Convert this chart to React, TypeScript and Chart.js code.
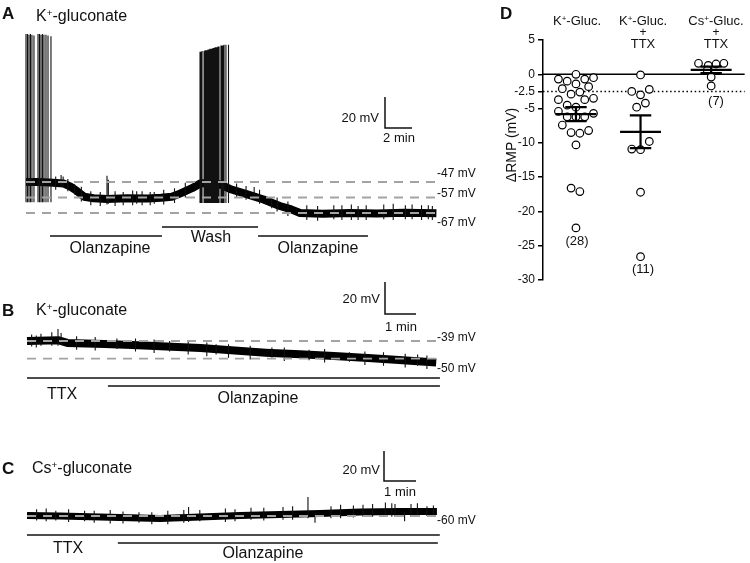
import React, { useEffect, useRef } from "react";
import { Chart, registerables } from "chart.js";
Chart.register(...registerables);

const FONT = '"Liberation Sans", Arial, Helvetica, sans-serif';

// ---------------- Panel A (K+-gluconate) ----------------
const traceATime = [0, 1, 2, 2.8, 3.3, 3.8, 4.3, 5, 6, 7.5, 9, 10, 10.8, 11.4, 12.3, 12.9, 13.9, 14.5, 15.1, 16.4, 17.6, 18.8, 19.6, 20.3, 22, 24, 26, 28, 30.4];
const traceAMv = [-47, -47, -47.5, -48, -50, -53, -56.5, -57.5, -58, -57.5, -57.6, -57.2, -56.5, -54.5, -51, -48, -47.3, -49, -51.5, -55, -58.3, -62.5, -64.5, -67, -67.5, -67, -67.3, -66.8, -67.2];
// action potentials (two bursts) and small noise deflections
const spikeATime = [0, 0.11, 0.22, 0.33, 0.44, 0.59, 0.89, 1.0, 1.11, 1.22, 1.33, 1.48, 1.63, 1.85,
  12.89, 12.96, 13.04, 13.19, 13.26, 13.33, 13.41, 13.48, 13.56, 13.63, 13.7, 13.78, 13.85, 13.93, 14.0, 14.07, 14.15, 14.22, 14.3, 14.44, 14.52, 14.59, 14.67, 14.81, 15.0,
  2.6, 2.75, 3.6, 6.0, 6.1, 8.2, 9.5, 16.9, 18.2, 22.8, 24.6, 26.5, 28.1, 29.8,
  2.2, 3.1, 4.1, 4.8, 5.5, 6.6, 7.2, 7.9, 8.6, 9.2, 10.2, 11.0, 11.8, 15.6, 16.3, 17.3, 18.6, 19.4, 20.8, 21.6, 23.4, 24.1, 25.2, 27.2, 28.6, 29.3, 30.1];
const spikeALow = [-60, -60, -60, -60, -60, -60, -60, -60, -60, -60, -60, -60, -60, -60,
  -60.5, -60.5, -60.5, -60.5, -60.5, -60.5, -60.5, -60.5, -60.5, -60.5, -60.5, -60.5, -60.5, -60.5, -60.5, -60.5, -60.5, -60.5, -60.5, -60.5, -60.5, -60.5, -60.5, -60.5, -60.5,
  -50, -50, -55, -61.5, -61, -61, -61, -58, -64, -71, -71.5, -71, -71, -71,
  -52, -53, -59.5, -62, -62.5, -62.5, -62, -62, -62, -62, -61.5, -60.5, -57, -57, -58.5, -61, -66, -69, -71.5, -72, -71.5, -71.5, -71.5, -71.5, -71, -71.5, -71.5];
const spikeAHigh = [48.5, 48.5, 48, 48.5, 48, 47.5, 48.5, 48.5, 48, 48.5, 48, 48, 47.5, 47,
  37, 37, 37.5, 37.5, 38, 38, 38, 38.5, 38.5, 39, 39, 39, 39.5, 39.5, 40, 40, 40, 40.5, 40.5, 41, 41, 41, 41.5, 41.5, 41.5,
  -42.5, -43.5, -48.5, -43, -45.5, -53, -53.5, -50.2, -57, -62, -62.5, -61.5, -62, -62,
  -43.5, -45, -50, -53, -53.5, -53, -53.5, -52.5, -53, -53.5, -52, -51, -47.5, -48, -49.5, -52, -57, -59.5, -62, -62.5, -62, -61.5, -62, -61, -61.5, -62, -62.5];
const refLinesA = [-47, -57, -67];
const protocolAStart = [1.78, 10.07, 17.19];
const protocolAEnd = [10.07, 17.19, 25.33];

// ---------------- Panel B (K+-gluconate, TTX) ----------------
const traceBTime = [0, 1, 1.3, 2.5, 3.4, 4.5, 5.6, 6.7, 7.7, 8.8, 9.9, 11, 12, 13.2];
const traceBMv = [-39, -38.5, -40.2, -40.8, -41.5, -42.5, -43.4, -45, -46.3, -47.3, -48.4, -49.6, -50.9, -52.5];
const spikeBTime = [0.15, 0.45, 0.8, 1.0, 1.1, 2.9, 4.6, 6.1, 7.9, 9.1, 10.4, 12.6,
  0.3, 1.6, 2.2, 3.5, 4.1, 5.2, 5.8, 6.5, 7.2, 8.3, 9.6, 10.9, 11.5, 12.2, 12.9];
const spikeBLow = [-42.5, -42, -42, -42, -41.5, -44, -45.5, -47.5, -49.5, -51, -52, -54.5,
  -43, -44.5, -45, -45.5, -46.5, -47.5, -48.5, -49.5, -50.5, -51.5, -52.5, -54, -54.5, -55.5, -56.5];
const spikeBHigh = [-35, -34.5, -33.5, -31.5, -34, -37.5, -39, -41, -43, -44.5, -46, -47.5,
  -35.5, -36, -36.5, -37.5, -38, -39, -40, -41, -42, -43, -44, -45.5, -46, -47, -48];
const refLinesB = [-39, -50];
const protocolBStart = [0, 2.61];
const protocolBEnd = [13.32, 13.32];

// ---------------- Panel C (Cs+-gluconate, TTX) ----------------
const traceCTime = [0, 1.03, 2.28, 3.53, 4.16, 5.41, 6.66, 7.91, 9.16, 10.41, 11.66, 12.81];
const traceCMv = [-59.7, -60, -60.7, -61.3, -61.7, -60.7, -59.7, -59, -58.3, -57.3, -57, -57];
const spikeCTime = [0.9, 1.8, 3.5, 4.9, 5.05, 5.4, 7.0, 8.78, 9.5, 10.5, 11.2, 11.5, 12.5, 9.0, 11.8,
  0.3, 0.6, 1.3, 2.1, 2.6, 3.0, 3.9, 4.4, 6.2, 6.5, 7.4, 8.0, 8.3, 9.8, 10.2, 10.8, 11.4, 12.0, 12.2, 12.7];
const spikeCLow = [-63, -63.5, -64.5, -64.5, -64, -63.5, -62.5, -61.5, -61.5, -60.5, -60.5, -60.5, -60, -64.5, -63.5,
  -63, -63.5, -64, -64.5, -65, -65, -65.5, -65.5, -64, -63.5, -63, -62.5, -62.5, -61.5, -61, -60.5, -60.5, -60.5, -60.5, -60.5];
const spikeCHigh = [-56.5, -56.5, -57.5, -56, -54, -56, -54.5, -47.3, -53.5, -52.5, -51, -52, -53.5, -58, -57,
  -55.5, -55, -55.5, -56.5, -56, -57, -57.5, -56.5, -55, -55.5, -54.5, -54, -53.5, -52.5, -53, -52, -51.5, -52, -51.5, -53];
const refLinesC = [-60];
const protocolCStart = [0, 2.84];
const protocolCEnd = [12.9, 12.84];

// ---------------- Panel D (ΔRMP) ----------------
const dTicks = [-30, -25, -20, -15, -10, -5, -2.5, 0, 5];
const kGlucValues = [0, -0.7, -1.0, -1.4, -0.7, -0.5, -2.1, -2.9, -2.6, -1.8, -3.7, -4.5, -4.8, -3.7, -3.5, -5.4, -6.2, -6.2, -6.2, -5.7, -7.4, -8.5, -8.6, -8.2, -10.3, -16.6, -17.1, -22.4];
const kTtxValues = [-0.1, -2.5, -3.0, -2.2, -4.8, -4.2, -9.8, -10.9, -11.0, -17.2, -26.6];
const csTtxValues = [1.6, 1.3, 1.5, 1.6, 0.6, -0.4, -1.7];
const dCounts = ["(28)", "(11)", "(7)"];

// layout-only (pixel jitter of the scatter points, group centres)
const kGlucJitter = [0, -18, -9, 0, 9, 18, -14, -5, 4, 13, -18, -9, 0, 9, 18, -18, -9, 0, 9, 18, -14, -5, 4, 13, 0, -5, 4, 0];
const kTtxJitter = [0, -9, 0, 9, -4, 5, 9, -9, 0, 0, 0];
const csTtxJitter = [-13, -3, 5, 13, -4, 0, 0];
const groupCenters = [0.49, 1.45, 2.5];
const PX_PER_UNIT = 69;

type Pt = { x: number; y: number | null };

function baseOptions(xMin: number, xMax: number, yMin: number, yMax: number): any {
  return {
    responsive: false,
    animation: false,
    events: [],
    layout: { padding: 0 },
    plugins: { legend: { display: false }, tooltip: { enabled: false } },
    elements: { point: { radius: 0 }, line: { tension: 0 } },
    scales: {
      x: { type: "linear", display: false, min: xMin, max: xMax },
      y: { type: "linear", display: false, min: yMin, max: yMax },
    },
  };
}

type TraceSpec = {
  left: number; top: number; width: number; height: number;
  x0: number; pxPerMin: number; refY: number; refMv: number; pxPerMv: number;
  t: number[]; v: number[]; lineWidth: number;
  sT: number[]; sLo: number[]; sHi: number[];
  refs: number[]; refEnd: number;
  pStart: number[]; pEnd: number[]; pRowY: number[];
  barX: number; barY: number; barMv: number; barMin: number;
};

function traceConfig(s: TraceSpec): any {
  const xMin = (s.left - s.x0) / s.pxPerMin;
  const xMax = xMin + s.width / s.pxPerMin;
  const yMax = s.refMv + (s.refY - s.top) / s.pxPerMv;
  const yMin = yMax - s.height / s.pxPerMv;
  const tAt = (px: number) => (px - s.x0) / s.pxPerMin;
  const vAt = (py: number) => s.refMv + (s.refY - py) / s.pxPerMv;

  const trace: Pt[] = s.t.map((t, i) => ({ x: t, y: s.v[i] }));
  const spikes: Pt[] = [];
  s.sT.forEach((t, i) => {
    spikes.push({ x: t, y: s.sLo[i] }, { x: t, y: s.sHi[i] }, { x: t, y: null });
  });
  const datasets: any[] = [
    { data: trace, borderColor: "#000", borderWidth: s.lineWidth, borderJoinStyle: "round", order: 5 },
    { data: spikes, borderColor: "#111", borderWidth: 1.1, spanGaps: false, order: 4 },
  ];
  s.refs.forEach((r) => {
    datasets.push({ data: [{ x: 0, y: r }, { x: s.refEnd, y: r }], borderColor: "#a3a3a3", borderWidth: 1.8, borderDash: [9, 7], order: 1 });
  });
  s.pStart.forEach((st, i) => {
    const y = vAt(s.pRowY[i]);
    datasets.push({ data: [{ x: st, y }, { x: s.pEnd[i], y }], borderColor: "#111", borderWidth: 1.4, order: 2 });
  });
  const bx = tAt(s.barX);
  const by = vAt(s.barY);
  datasets.push({
    data: [{ x: bx, y: by + s.barMv }, { x: bx, y: by }, { x: bx + s.barMin, y: by }],
    borderColor: "#111", borderWidth: 1.5, borderJoinStyle: "miter", order: 2,
  });
  return { type: "line", data: { datasets }, options: baseOptions(xMin, xMax, yMin, yMax) };
}

function meanSem(vals: number[]) {
  const n = vals.length;
  const m = vals.reduce((a, b) => a + b, 0) / n;
  const sd = Math.sqrt(vals.reduce((a, b) => a + (b - m) * (b - m), 0) / (n - 1));
  return { m, sem: sd / Math.sqrt(n) };
}

function dConfig(): any {
  const groups = [kGlucValues, kTtxValues, csTtxValues];
  const jitters = [kGlucJitter, kTtxJitter, csTtxJitter];
  const datasets: any[] = [];
  datasets.push({ data: [{ x: 0, y: 0 }, { x: 3, y: 0 }], showLine: true, borderColor: "#000", borderWidth: 1.6, pointRadius: 0, order: 5 });
  datasets.push({ data: [{ x: 0, y: -2.5 }, { x: 3, y: -2.5 }], showLine: true, borderColor: "#000", borderWidth: 1.5, borderDash: [1.5, 2.6], pointRadius: 0, order: 5 });
  groups.forEach((vals, g) => {
    const c = groupCenters[g];
    datasets.push({
      data: vals.map((v, i) => ({ x: c + jitters[g][i] / PX_PER_UNIT, y: v })),
      pointRadius: 3.8, pointBorderWidth: 1.2, pointBackgroundColor: "#fff", pointBorderColor: "#000",
      showLine: false, order: 3,
    });
    const { m, sem } = meanSem(vals);
    const hw = 21 / PX_PER_UNIT;
    const cw = 11 / PX_PER_UNIT;
    datasets.push({
      data: [
        { x: c - hw, y: m }, { x: c + hw, y: m }, { x: c, y: null },
        { x: c, y: m - sem }, { x: c, y: m + sem }, { x: c, y: null },
        { x: c - cw, y: m + sem }, { x: c + cw, y: m + sem }, { x: c, y: null },
        { x: c - cw, y: m - sem }, { x: c + cw, y: m - sem },
      ],
      showLine: true, spanGaps: false, borderColor: "#000", borderWidth: 2.2, pointRadius: 0, order: 1,
    });
  });
  return {
    type: "scatter",
    data: { datasets },
    options: {
      responsive: false,
      animation: false,
      events: [],
      layout: { padding: { top: 40, bottom: 20, left: 0, right: 0 } },
      plugins: { legend: { display: false }, tooltip: { enabled: false } },
      scales: {
        x: { type: "linear", display: false, min: 0, max: 3 },
        y: {
          type: "linear", min: -30, max: 5,
          afterBuildTicks: (sc: any) => { sc.ticks = dTicks.map((v) => ({ value: v })); },
          afterFit: (sc: any) => { sc.width = 53; },
          ticks: { color: "#111", font: { family: FONT, size: 12 }, padding: 3, callback: (v: any) => String(v) },
          grid: { drawOnChartArea: false, drawTicks: true, tickLength: 5, color: "#000", tickColor: "#000", lineWidth: 1.5 },
          border: { display: true, color: "#000", width: 1.5 },
        },
      },
    },
  };
}

function ChartCanvas(props: { left: number; top: number; width: number; height: number; make: () => any }) {
  const ref = useRef<HTMLCanvasElement>(null);
  useEffect(() => {
    const chart = new Chart(ref.current as HTMLCanvasElement, props.make());
    return () => chart.destroy();
  }, []);
  return (
    <canvas ref={ref} width={props.width} height={props.height}
      style={{ position: "absolute", left: props.left, top: props.top, width: props.width, height: props.height }} />
  );
}

function Label(props: { x: number; y: number; align?: "left" | "center" | "right"; size?: number; bold?: boolean; children: any }) {
  const a = props.align || "left";
  const tx = a === "center" ? "-50%" : a === "right" ? "-100%" : "0";
  return (
    <div style={{
      position: "absolute", left: props.x, top: props.y, transform: `translate(${tx},-50%)`,
      fontFamily: FONT, fontSize: props.size || 13, fontWeight: props.bold ? "bold" : "normal",
      lineHeight: 1, whiteSpace: "nowrap", color: "#111", textAlign: a,
    }}>{props.children}</div>
  );
}

const Sup = (p: { children: any }) => (
  <span style={{ fontSize: "0.62em", position: "relative", top: "-0.5em" }}>{p.children}</span>
);

export default function App() {
  const specA: TraceSpec = {
    left: 0, top: 20, width: 460, height: 230, x0: 26, pxPerMin: 13.5, refY: 182, refMv: -47, pxPerMv: 1.55,
    t: traceATime, v: traceAMv, lineWidth: 8, sT: spikeATime, sLo: spikeALow, sHi: spikeAHigh,
    refs: refLinesA, refEnd: 30.4, pStart: protocolAStart, pEnd: protocolAEnd, pRowY: [236, 227, 236],
    barX: 385, barY: 128, barMv: 20, barMin: 2,
  };
  const specB: TraceSpec = {
    left: 0, top: 270, width: 460, height: 125, x0: 27, pxPerMin: 31, refY: 341, refMv: -39, pxPerMv: 1.6,
    t: traceBTime, v: traceBMv, lineWidth: 8, sT: spikeBTime, sLo: spikeBLow, sHi: spikeBHigh,
    refs: refLinesB, refEnd: 13.32, pStart: protocolBStart, pEnd: protocolBEnd, pRowY: [378, 386],
    barX: 385, barY: 314, barMv: 20, barMin: 1,
  };
  const specC: TraceSpec = {
    left: 0, top: 440, width: 460, height: 110, x0: 27, pxPerMin: 32, refY: 516, refMv: -60, pxPerMv: 1.5,
    t: traceCTime, v: traceCMv, lineWidth: 7, sT: spikeCTime, sLo: spikeCLow, sHi: spikeCHigh,
    refs: refLinesC, refEnd: 12.9, pStart: protocolCStart, pEnd: protocolCEnd, pRowY: [535, 543],
    barX: 384, barY: 481, barMv: 20, barMin: 1,
  };

  return (
    <div style={{ position: "absolute", left: 0, top: 0, width: 750, height: 563, background: "#fff", overflow: "hidden" }}>
      <ChartCanvas left={specA.left} top={specA.top} width={specA.width} height={specA.height} make={() => traceConfig(specA)} />
      <ChartCanvas left={specB.left} top={specB.top} width={specB.width} height={specB.height} make={() => traceConfig(specB)} />
      <ChartCanvas left={specC.left} top={specC.top} width={specC.width} height={specC.height} make={() => traceConfig(specC)} />
      <ChartCanvas left={490} top={0} width={260} height={300} make={dConfig} />

      {/* Panel A */}
      <Label x={2} y={13} size={17} bold>A</Label>
      <Label x={36} y={16} size={16}>K<Sup>+</Sup>-gluconate</Label>
      <Label x={379} y={117} align="right">20 mV</Label>
      <Label x={399} y={137} align="center">2 min</Label>
      <Label x={437} y={173} size={12}>-47 mV</Label>
      <Label x={437} y={193} size={12}>-57 mV</Label>
      <Label x={437} y={222} size={12}>-67 mV</Label>
      <Label x={110} y={248} align="center" size={16}>Olanzapine</Label>
      <Label x={211} y={237} align="center" size={16}>Wash</Label>
      <Label x={318} y={248} align="center" size={16}>Olanzapine</Label>

      {/* Panel B */}
      <Label x={2} y={310} size={17} bold>B</Label>
      <Label x={36} y={310} size={16}>K<Sup>+</Sup>-gluconate</Label>
      <Label x={380} y={298} align="right">20 mV</Label>
      <Label x={401} y={326} align="center">1 min</Label>
      <Label x={437} y={337} size={12}>-39 mV</Label>
      <Label x={437} y={368} size={12}>-50 mV</Label>
      <Label x={62} y={394} align="center" size={16}>TTX</Label>
      <Label x={258} y={398} align="center" size={16}>Olanzapine</Label>

      {/* Panel C */}
      <Label x={2} y={468} size={17} bold>C</Label>
      <Label x={32} y={468} size={16}>Cs<Sup>+</Sup>-gluconate</Label>
      <Label x={380} y={469} align="right">20 mV</Label>
      <Label x={400} y={491} align="center">1 min</Label>
      <Label x={437} y={520} size={12}>-60 mV</Label>
      <Label x={68} y={548} align="center" size={16}>TTX</Label>
      <Label x={263} y={553} align="center" size={16}>Olanzapine</Label>

      {/* Panel D */}
      <Label x={500} y={13} size={17} bold>D</Label>
      <Label x={577} y={21} align="center" size={13}>K<Sup>+</Sup>-Gluc.</Label>
      <Label x={643} y={21} align="center" size={13}>K<Sup>+</Sup>-Gluc.</Label>
      <Label x={643} y={32} align="center" size={12}>+</Label>
      <Label x={643} y={43} align="center" size={13}>TTX</Label>
      <Label x={716} y={21} align="center" size={13}>Cs<Sup>+</Sup>-Gluc.</Label>
      <Label x={716} y={32} align="center" size={12}>+</Label>
      <Label x={716} y={43} align="center" size={13}>TTX</Label>
      <Label x={577} y={240} align="center" size={13}>{dCounts[0]}</Label>
      <Label x={643} y={268} align="center" size={13}>{dCounts[1]}</Label>
      <Label x={716} y={100} align="center" size={13}>{dCounts[2]}</Label>
      <div style={{
        position: "absolute", left: 511, top: 145, transform: "translate(-50%,-50%) rotate(-90deg)",
        fontFamily: FONT, fontSize: 14, lineHeight: 1, whiteSpace: "nowrap", color: "#111",
      }}>ΔRMP (mV)</div>
    </div>
  );
}
